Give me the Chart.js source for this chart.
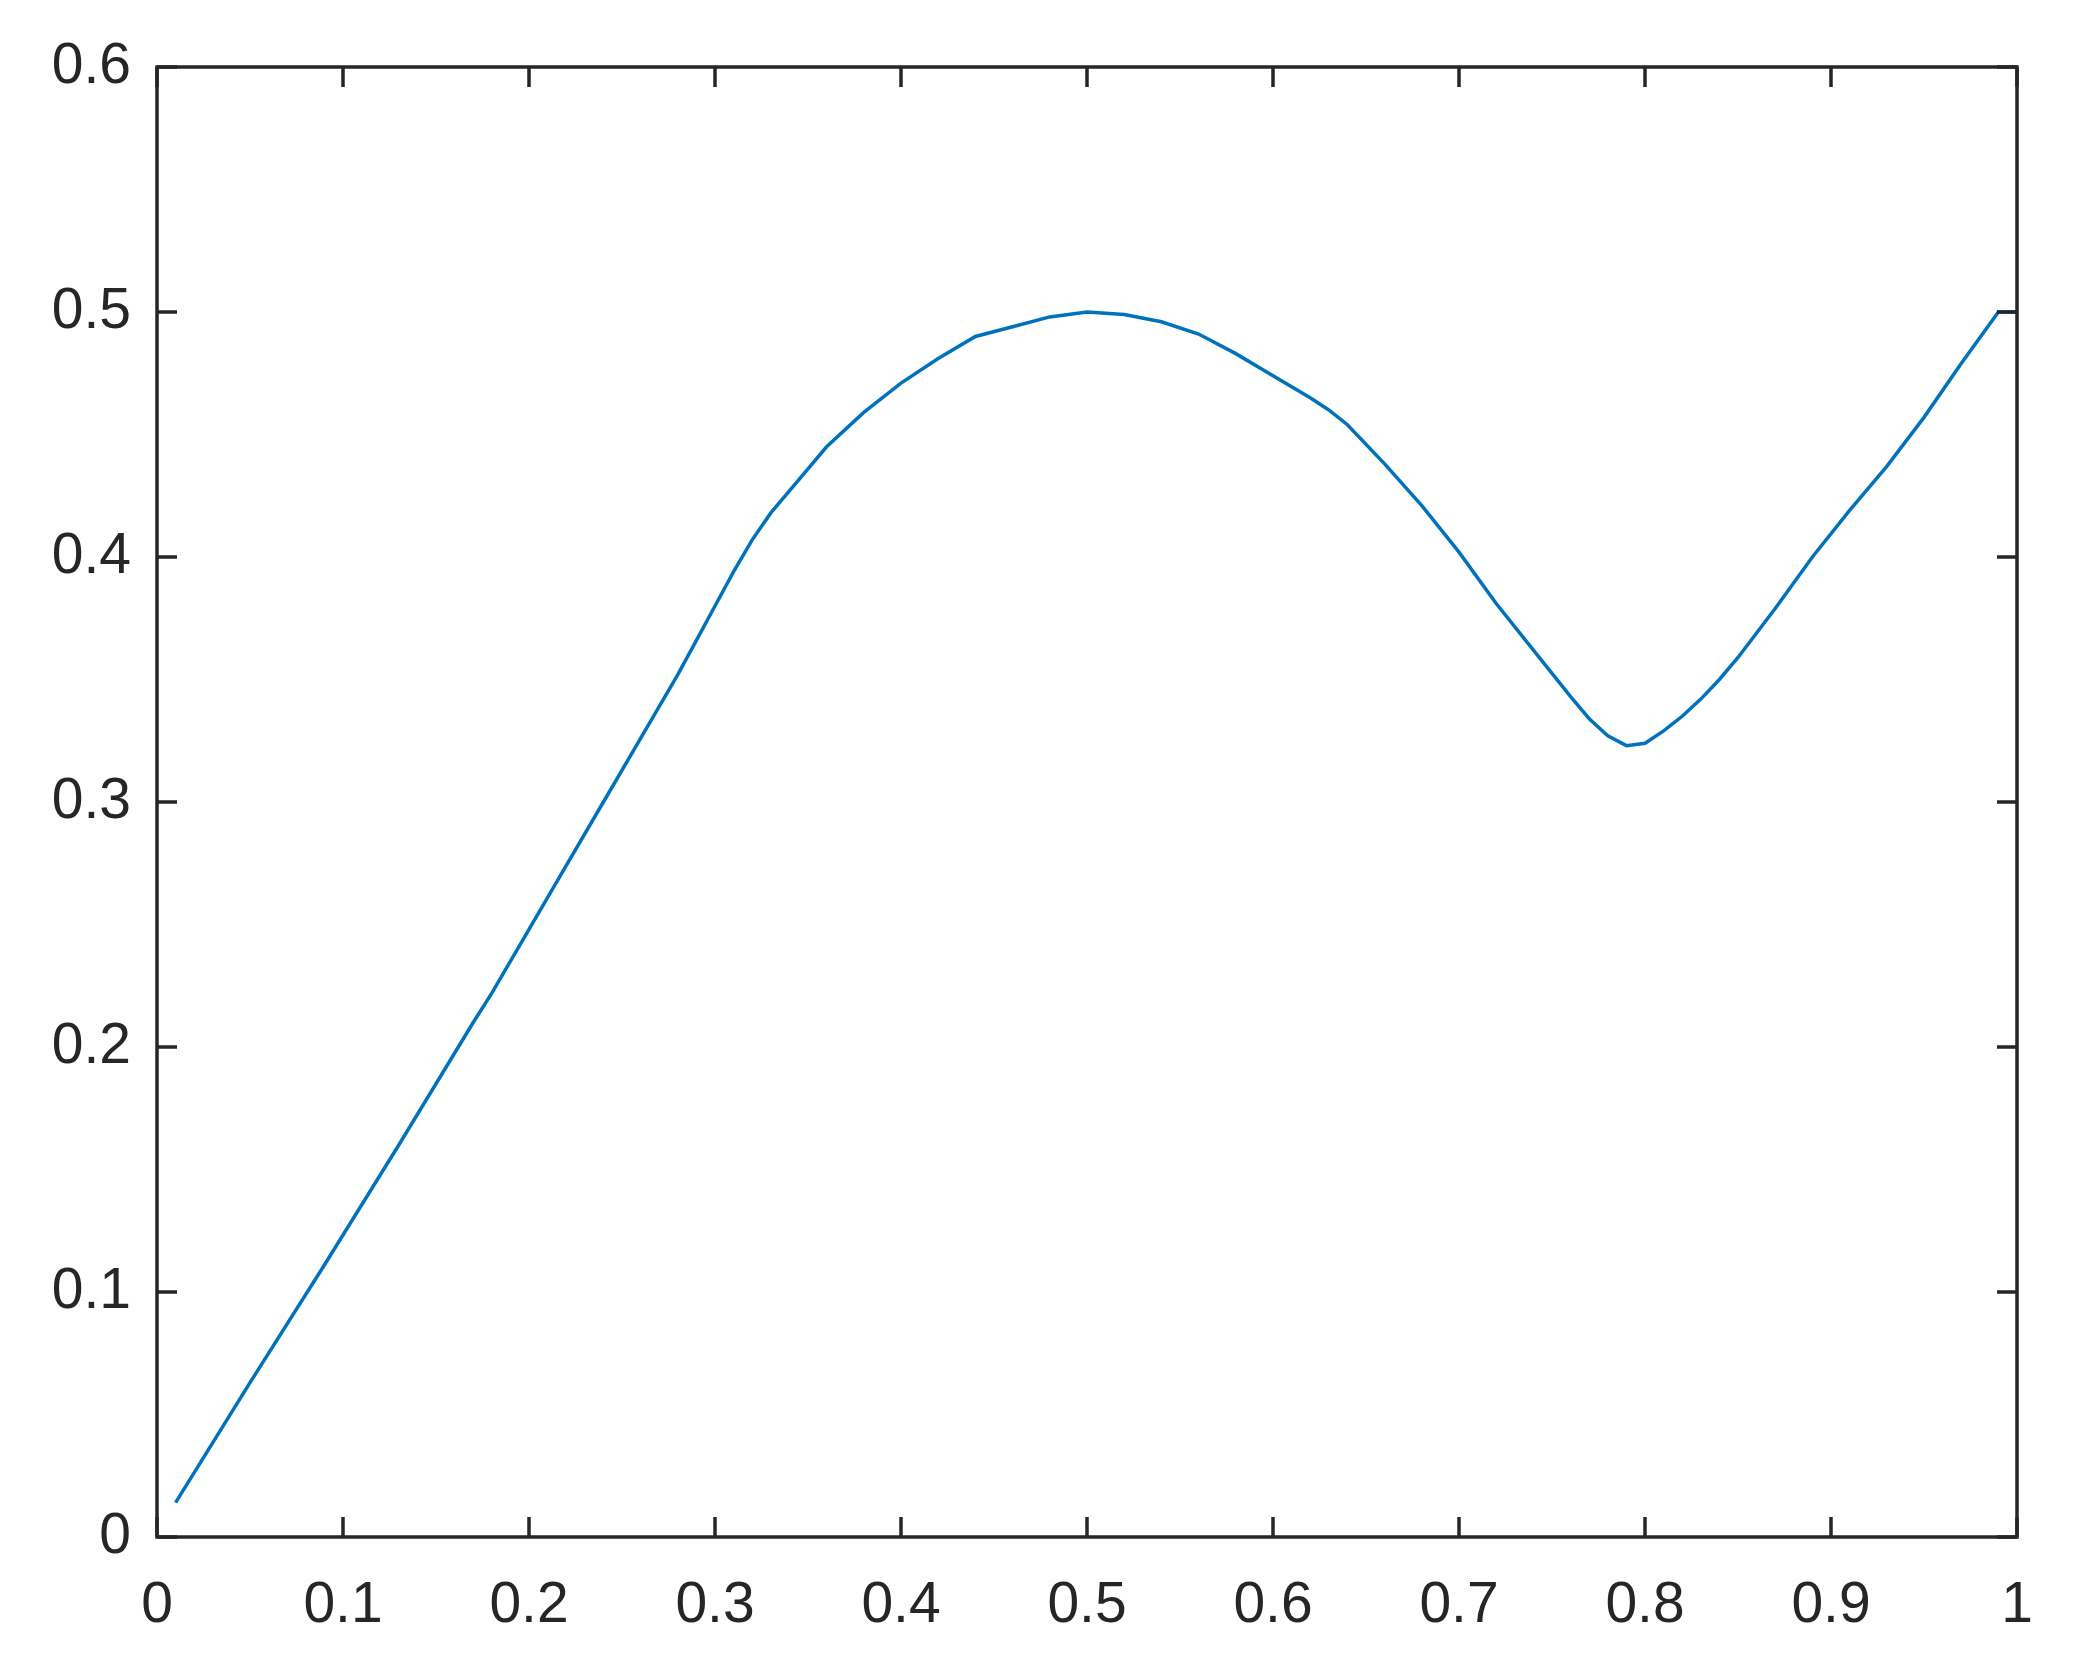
<!DOCTYPE html>
<html>
<head>
<meta charset="utf-8">
<script src="https://cdn.jsdelivr.net/npm/chart.js@4.4.1/dist/chart.umd.min.js"></script>
<style>
  body { margin: 0; background: #fff; }
  canvas { display: block; }
</style>
</head>
<body>
<canvas id="curve" width="2085" height="1673"></canvas>
<script>
// values
let xValues = [0.01, 0.05, 0.09, 0.13, 0.17, 0.18, 0.20, 0.22, 0.24, 0.26,
               0.28, 0.29, 0.30, 0.31, 0.32, 0.33, 0.34, 0.36, 0.38, 0.40,
               0.42, 0.44, 0.46, 0.48, 0.50, 0.52, 0.54, 0.56, 0.58, 0.60,
               0.62, 0.63, 0.64, 0.66, 0.68, 0.70, 0.72, 0.74, 0.76, 0.77,
               0.78, 0.79, 0.80, 0.81, 0.82, 0.83, 0.84, 0.85, 0.87, 0.89,
               0.91, 0.93, 0.95, 0.97, 0.99, 1.00];
let yValues = [0.014, 0.063, 0.111, 0.160, 0.210, 0.222, 0.248, 0.274, 0.300, 0.326,
               0.352, 0.366, 0.380, 0.394, 0.407, 0.418, 0.427, 0.445, 0.459, 0.471,
               0.481, 0.490, 0.494, 0.498, 0.500, 0.499, 0.496, 0.491, 0.483, 0.474,
               0.465, 0.460, 0.454, 0.438, 0.421, 0.402, 0.381, 0.362, 0.343, 0.334,
               0.327, 0.323, 0.324, 0.329, 0.335, 0.342, 0.350, 0.359, 0.379, 0.400,
               0.419, 0.437, 0.457, 0.479, 0.500, 0.500];
let xTicks = [0, 0.1, 0.2, 0.3, 0.4, 0.5, 0.6, 0.7, 0.8, 0.9, 1];
let yTicks = [0, 0.1, 0.2, 0.3, 0.4, 0.5, 0.6];

let points = xValues.map((x, i) => ({x: x, y: yValues[i]}));

let axisColor = '#262626';
let tickFont = {family: 'Liberation Sans, Arial, sans-serif', size: 57};

// matlab style box with inward ticks on all four sides
let boxPlugin = {
    id: 'box',
    afterDraw: function (chart) {
        let c = chart.ctx;
        let a = chart.chartArea;
        let xs = chart.scales.x;
        let ys = chart.scales.y;
        let len = 20;
        c.save();
        c.strokeStyle = axisColor;
        c.lineWidth = 3.5;
        c.beginPath();
        xTicks.forEach(function (v) {
            let px = xs.getPixelForValue(v);
            c.moveTo(px, a.bottom); c.lineTo(px, a.bottom - len);
            c.moveTo(px, a.top); c.lineTo(px, a.top + len);
        });
        yTicks.forEach(function (v) {
            let py = ys.getPixelForValue(v);
            c.moveTo(a.left, py); c.lineTo(a.left + len, py);
            c.moveTo(a.right, py); c.lineTo(a.right - len, py);
        });
        c.stroke();
        c.strokeRect(a.left, a.top, a.right - a.left, a.bottom - a.top);
        c.restore();
    }
};

new Chart(document.getElementById('curve').getContext('2d'), {
    type: 'scatter',
    data: {
        datasets: [{
            data: points,
            showLine: true,
            borderColor: '#0072BD',
            borderWidth: 3.5,
            pointRadius: 0,
            tension: 0
        }]
    },
    options: {
        responsive: false,
        animation: false,
        layout: {
            padding: {left: 0, top: 67, right: 68, bottom: 0}
        },
        plugins: {
            legend: {display: false},
            tooltip: {enabled: false}
        },
        scales: {
            x: {
                type: 'linear',
                min: 0,
                max: 1,
                afterBuildTicks: function (s) { s.ticks = xTicks.map(v => ({value: v})); },
                afterFit: function (s) { s.height = 136; },
                grid: {display: false, drawTicks: false, tickLength: 0},
                border: {display: false},
                ticks: {
                    color: axisColor,
                    font: tickFont,
                    padding: 35,
                    maxRotation: 0,
                    callback: function (v) { return String(v); }
                }
            },
            y: {
                type: 'linear',
                min: 0,
                max: 0.6,
                afterBuildTicks: function (s) { s.ticks = yTicks.map(v => ({value: v})); },
                afterFit: function (s) { s.width = 157; },
                grid: {display: false, drawTicks: false, tickLength: 0},
                border: {display: false},
                ticks: {
                    color: axisColor,
                    font: tickFont,
                    padding: 26,
                    callback: function (v) { return String(v); }
                }
            }
        }
    },
    plugins: [boxPlugin]
});
</script>
</body>
</html>
